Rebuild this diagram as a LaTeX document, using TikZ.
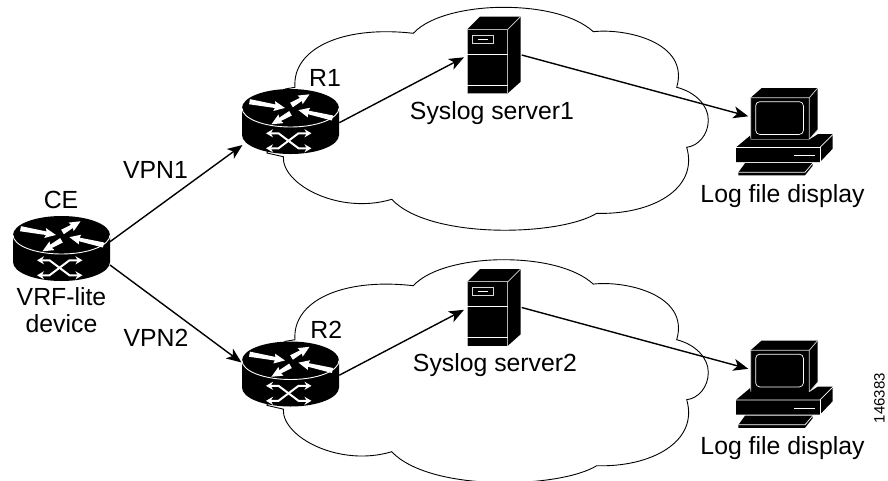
\documentclass[tikz,border=0pt]{standalone}
\usepackage{fontspec}
\setmainfont{Liberation Sans}
\usetikzlibrary{arrows.meta}

\tikzset{
  link/.style={line width=1.4pt,-{Stealth[length=15pt,width=12pt,inset=4pt]}},
  rim/.style={draw=white,line width=0.9pt},
  swap/.style={draw=white,line width=2pt,{Stealth[length=7pt,width=8pt]}-{Stealth[length=7pt,width=8pt]}},
  label/.style={font=\fontsize{24.8pt}{27.5pt}\selectfont,inner sep=0pt,align=center},
  router/.pic={
    \fill[black] (-48.5,0) -- (-48.5,27) arc[start angle=180,end angle=360,x radius=48.5pt,y radius=19pt]
      -- (48.5,0) arc[start angle=0,end angle=180,x radius=48.5pt,y radius=19pt] -- cycle;
    \draw[rim] (-48.5,0) arc[start angle=180,end angle=360,x radius=48.5pt,y radius=19pt];
    % Top arrows
    \foreach \tx/\ty/\ang/\len in {-41/-6.3/-10/36, 1/-3/30.7/21, 42/10/167/35, 0/5.3/210/22} {
      \fill[white,shift={(\tx,\ty)},rotate=\ang] (0,-2.6) -- (\len-10,-1.8) -- (\len-11,-5) -- (\len,0)
        -- (\len-11,5) -- (\len-10,1.8) -- (0,2.6) -- cycle;
    }
    % Crossing arrows
    \draw[swap] (-24.5,25.3) -- (-12,25.3) -- (8,40.3) -- (21,40.3);
    \draw[swap] (-24.5,40.3) -- (-12,40.3) -- (8,25.3) -- (21,25.3);
    \coordinate (-nw) at (-49,2);
    \coordinate (-sw) at (-48,37);
    \coordinate (-ne) at (48.5,6.7);
    \coordinate (-se) at (48.5,30);
    \coordinate (-e) at (48.8,14.7);
  },
  server/.pic={
    \fill[black] (0,0) -- (12.7,-12.7) -- (53.3,-12.7) -- (53.3,52.5) -- (40.4,64) -- (0,64) -- cycle;
    \draw[gray!60,line width=0.7pt] (0,64) -- (0,0) -- (40.4,0) -- (40.4,64);
    \draw[gray!30,line width=0.7pt] (40.4,0) -- (53.3,-12.7);
    \draw[white,line width=0.8pt] (0,24.7) -- (40.4,24.7);
    \draw[white,line width=0.8pt] (0,55.7) -- (40.4,55.7);
    \draw[gray!30,line width=0.8pt] (5,5.7) rectangle (26,14);
    \draw[white,line width=0.8pt] (10.3,10) -- (21,10);
    \coordinate (-w) at (-3.3,28);
    \coordinate (-e) at (54.4,25.7);
  },
  display/.pic={
    % Monitor
    \fill[black] (0,0) -- (11,-9.7) -- (67,-9.7) -- (67,32) -- (58.6,41.7) -- (0,41.7) -- cycle;
    \draw[gray!30,line width=0.7pt] (0,41.7) -- (0,0) -- (58.6,0) -- (58.6,41.7) -- (67,32);
    \draw[gray!30,line width=0.7pt] (58.6,0) -- (67,-9.7);
    \draw[white,line width=0.7pt,rounded corners=4pt] (5,4) rectangle (52.7,36.7);
    % Base
    \fill[black] (-14.7,49.7) -- (-0.7,38) -- (0,41.9) -- (58.6,41.9) -- (67,36.5) -- (82,36.5) -- (82,51) -- (69.3,64.3) -- (-14.7,64.3) -- cycle;
    \draw[white,line width=0.7pt] (-14.7,49.7) -- (69.3,49.7) -- (82,37);
    \draw[white,line width=0.7pt] (69.3,49.7) -- (69.3,64.3);
    \draw[white,line width=1pt] (43.3,58) -- (64.3,58);
    % Keyboard
    \fill[black] (-5.7,65.5) -- (62,65.5) -- (62,68) -- (54.3,77.6) -- (-12.3,77.6) -- (-12.3,74.6) -- cycle;
    \draw[white,line width=0.7pt] (-12.3,74.6) -- (54.3,74.6) -- (62,65.5);
    \coordinate (-w) at (-2.4,18.6);
  },
  cloudy/.pic={
    \draw[line width=0.9pt] (413.3,33.3) .. controls (430,15) and (470,7.3) .. (503.3,7.3)
      .. controls (540,7.3) and (575,15) .. (593.3,31.7)
      .. controls (625,28) and (690,42) .. (676.7,87.3)
      .. controls (695,92) and (708.3,105) .. (708.3,120)
      .. controls (708.3,135) and (698,146) .. (686.7,147.3)
      .. controls (699,190) and (650,215) .. (596.7,213.3)
      .. controls (560,236) and (430,240) .. (391.7,199.3)
      .. controls (340,215) and (282,185) .. (283.3,156.7)
      -- (267,153) -- (285,89) -- (295,87.3)
      .. controls (292,50) and (340,25) .. (413.3,33.3) -- cycle;
  }
}

\begin{document}
\begin{tikzpicture}[x=1pt,y=-1pt]
  % Boundary
  \path[use as bounding box] (0,0) rectangle (888,480);
  % Clouds
  \foreach \n/\dy in {1/0,2/252.4} {
    \pic at (0,\dy) {cloudy};
  }
  % Devices
  \pic (ce) at (61.5,235) {router};
  \foreach \n/\dy in {1/0,2/252.5} {
    \pic (r\n) at (290.5,108+\dy) {router};
    \pic (srv\n) at (467.3,29.3+\dy) {server};
    \pic (pc\n) at (750.7,97.7+\dy) {display};
  }
  % Links
  \draw[link] (ce-ne) -- (r1-sw);
  \draw[link] (ce-se) -- (r2-nw);
  \foreach \n in {1,2} {
    \draw[link] (r\n-e) -- (srv\n-w);
    \draw[link] (srv\n-e) -- (pc\n-w);
  }
  % Labels
  \node[label] (cetext) at (61,200) {CE};
  \node[label] (vrftext) at (61.5,310) {VRF-lite\\device};
  \node[label] (vpna) at (155.5,170) {VPN1};
  \node[label] (vpnb) at (156,338) {VPN2};
  \node[label] (rtexta) at (325,78) {R1};
  \node[label] (rtextb) at (326.3,329.5) {R2};
  \node[label] (srvtexta) at (492,113) {Syslog server1};
  \node[label] (srvtextb) at (495,365) {Syslog server2};
  \node[label] (pctexta) at (782.5,196) {Log file display};
  \node[label] (pctextb) at (782.5,448) {Log file display};
  \node[rotate=90,font=\fontsize{15pt}{17pt}\selectfont,inner sep=0pt] (fignum) at (879.5,398) {146383};
\end{tikzpicture}
\end{document}
